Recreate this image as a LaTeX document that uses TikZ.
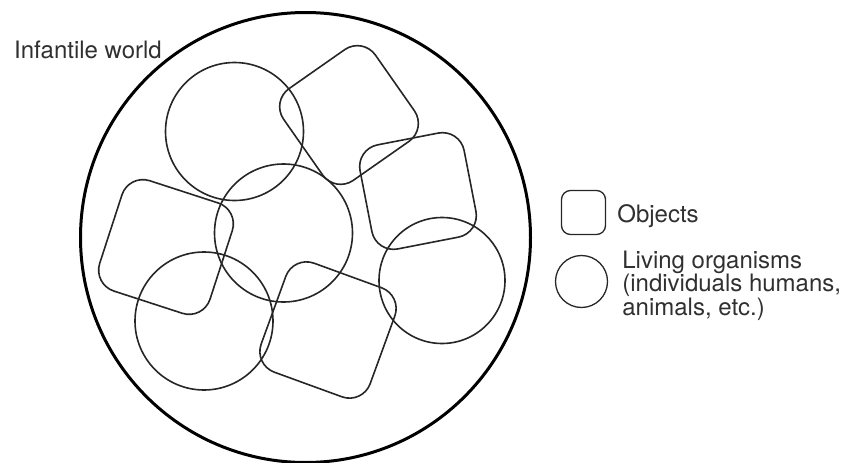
\documentclass[tikz,border=0pt]{standalone}
\usepackage{fontspec}
\setmainfont{TeX Gyre Heros}
\usetikzlibrary{positioning}
\definecolor{Trazo}{HTML}{262626}
\definecolor{Texto}{HTML}{303030}
\tikzset{
  mundo/.style   = {draw=black, circle, line width=3pt, minimum size=450pt,
                    inner sep=0pt},
  ser/.style     = {draw=Trazo, circle, line width=1.6pt, minimum size=138pt,
                    inner sep=0pt},
  objeto/.style  = {draw=Trazo, rectangle, rounded corners=22pt,
                    line width=1.6pt, inner sep=0pt},
  serl/.style    = {draw=Trazo, circle, line width=1.3pt, minimum size=52pt,
                    inner sep=0pt},
  objetol/.style = {draw=Trazo, rectangle, rounded corners=9pt,
                    line width=1.3pt, minimum size=44pt, inner sep=0pt},
  txt/.style     = {font=\fontsize{24}{22.5}\selectfont, text=Texto,
                    inner sep=0pt, align=left},
}

\begin{document}
\begin{tikzpicture}[x=1pt, y=-1pt]
  \useasboundingbox (0,0) rectangle (846,463);
  \node[mundo] (mundo) at (305.5,237.5) {};
  \node[txt, anchor=base west] (titulo) at (14,58) {Infantile world};
  % seres vivos
  \node[ser] (s1) at (234.5,131.5) {};
  \node[ser] (s2) at (283.5,233) {};
  \node[ser] (s3) at (204,321) {};
  \node[ser, minimum size=126pt] (s4) at (442,280.5) {};
  % objetos
  \node[objeto, minimum size=112pt, rotate=35] (o1) at (349,115) {};
  \node[objeto, minimum size=106pt, rotate=11] (o2) at (418,191) {};
  \node[objeto, minimum size=116pt, rotate=-18] (o3) at (166,247) {};
  \node[objeto, minimum size=116pt, rotate=-20] (o4) at (328,330) {};
  % leyenda
  \node[objetol] (ol) at (583.5,212.5) {};
  \node[serl] (sl) at (581.5,281.5) {};
  \node[txt, right=11pt of ol, yshift=-4pt] (tobj) {Objects};
  \node[txt, right=14pt of sl, yshift=-4pt] (tser) {Living organisms\\(individuals humans,\\animals, etc.)};
\end{tikzpicture}
\end{document}
